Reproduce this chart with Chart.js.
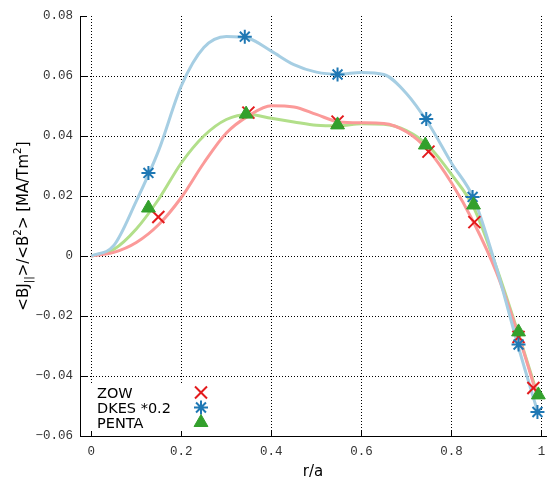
<!DOCTYPE html>
<html>
<head>
<meta charset="utf-8">
<title>bootstrap current profile</title>
<script src="https://cdn.jsdelivr.net/npm/chart.js@4/dist/chart.umd.min.js"></script>
<style>
  html, body { margin: 0; padding: 0; background: #fff; }
  #wrap { width: 547px; height: 484px; }
</style>
</head>
<body>
<div id="wrap"><canvas id="myChart" width="547" height="484"></canvas></div>
<script>
// axis ticks
var xTicks = [0, 0.2, 0.4, 0.6, 0.8, 1];
var xTickLabels = ["0", "0.2", "0.4", "0.6", "0.8", "1"];
var yTicks = [-0.06, -0.04, -0.02, 0, 0.02, 0.04, 0.06, 0.08];
var yTickLabels = ["\u22120.06", "\u22120.04", "\u22120.02", "0", "0.02", "0.04", "0.06", "0.08"];

// code results, <BJ||>/<B^2> at r/a
var zowR = [0.149, 0.349, 0.547, 0.749, 0.851, 0.949, 0.982];
var zowV = [0.013, 0.0478, 0.0448, 0.0348, 0.0113, -0.027, -0.044];
var dkesR = [0.127, 0.341, 0.547, 0.744, 0.847, 0.949, 0.991];
var dkesV = [0.0277, 0.0731, 0.0605, 0.0457, 0.0197, -0.0295, -0.052];
var pentaR = [0.127, 0.344, 0.547, 0.742, 0.849, 0.949, 0.993];
var pentaV = [0.016, 0.0473, 0.0437, 0.037, 0.017, -0.0253, -0.0463];

// smoothed profiles
var fitR = [0, 0.05, 0.1, 0.15, 0.2, 0.25, 0.3, 0.35, 0.4, 0.45, 0.5,
            0.55, 0.6, 0.65, 0.7, 0.75, 0.8, 0.85, 0.9, 0.95, 0.99];
var zowFit = [0, 0.0012, 0.0045, 0.0105, 0.0195, 0.031, 0.041, 0.0468, 0.0501, 0.0497, 0.0472,
              0.0447, 0.0444, 0.0442, 0.0414, 0.035, 0.0244, 0.011, -0.0055, -0.027, -0.0465];
var dkesFit = [0, 0.0035, 0.0183, 0.0353, 0.0567, 0.0695, 0.0732, 0.0725, 0.0683, 0.0638, 0.0613,
               0.0606, 0.0612, 0.0605, 0.0542, 0.0439, 0.031, 0.019, -0.004, -0.031, -0.0512];
var pentaFit = [0, 0.0022, 0.009, 0.019, 0.031, 0.040, 0.0455, 0.0472, 0.0459, 0.0447, 0.0436,
                0.0434, 0.0441, 0.0439, 0.0418, 0.0365, 0.0272, 0.016, -0.0038, -0.0265, -0.0457];

var legendItems = [
  { text: "ZOW", style: "crossRot", color: "#e31a1c", radius: 8.5 },
  { text: "DKES *0.2", style: "star", color: "#1f78b4", radius: 7 },
  { text: "PENTA", style: "triangle", color: "#33a02c", radius: 8 }
];

function pts(xs, ys) {
  return xs.map(function(x, i) { return { x: x, y: ys[i] }; });
}

function curve(data, color, order) {
  return {
    data: data, borderColor: color, borderWidth: 3, pointRadius: 0,
    cubicInterpolationMode: 'monotone', fill: false, order: order
  };
}

function marks(data, item, order) {
  return {
    data: data, showLine: false, pointStyle: item.style, pointRadius: item.radius,
    borderColor: item.color, backgroundColor: item.color,
    pointBorderWidth: item.style === 'triangle' ? 1 : 2, order: order, clip: false
  };
}

function drawMarker(c, item, x, y) {
  c.save();
  c.strokeStyle = item.color;
  c.fillStyle = item.color;
  c.lineWidth = item.style === 'triangle' ? 1 : 2;
  Chart.helpers.drawPoint(c, {
    pointStyle: item.style, radius: item.radius, rotation: 0,
    borderWidth: c.lineWidth
  }, x, y);
  c.restore();
}

// white box behind the key, small inward ticks on the axes
var frame = {
  id: 'frame',
  beforeDatasetsDraw: function(chart) {
    var c = chart.ctx, a = chart.chartArea;
    c.save();
    c.fillStyle = '#fff';
    c.fillRect(a.left + 1, a.bottom - 53, 133, 52);
    c.strokeStyle = '#000';
    c.lineWidth = 1;
    c.beginPath();
    yTicks.forEach(function(v) {
      var y = Math.round(chart.scales.y.getPixelForValue(v)) + 0.5;
      c.moveTo(a.left, y); c.lineTo(a.left + 7, y);
    });
    xTicks.forEach(function(v) {
      var x = Math.round(chart.scales.x.getPixelForValue(v)) + 0.5;
      c.moveTo(x, a.bottom); c.lineTo(x, a.bottom - 5);
    });
    c.stroke();
    c.restore();
  },
  afterDatasetsDraw: function(chart) {
    var c = chart.ctx, a = chart.chartArea;
    c.save();
    c.font = '14.5px "DejaVu Sans"';
    c.fillStyle = '#000';
    c.textBaseline = 'alphabetic';
    legendItems.forEach(function(item, i) {
      var base = a.bottom - 38 + i * 15;
      c.fillText(item.text, a.left + 17, base);
      drawMarker(c, item, 201, base - 5.5);
    });
    c.restore();
  }
};

// y axis title with sub/superscripts
var yTitleParts = [
  { t: "<BJ", k: 0 }, { t: "||", k: -1 }, { t: ">/<B", k: 0 }, { t: "2", k: 1 },
  { t: "> [MA/Tm", k: 0 }, { t: "2", k: 1 }, { t: "]", k: 0 }
];
var yTitle = {
  id: 'yTitle',
  afterDraw: function(chart) {
    var c = chart.ctx, a = chart.chartArea;
    var big = '15px "DejaVu Sans"', small = '10.5px "DejaVu Sans"';
    c.save();
    var total = 0;
    yTitleParts.forEach(function(p) {
      c.font = p.k ? small : big;
      p.w = c.measureText(p.t).width;
      total += p.w;
    });
    c.translate(22, (a.top + a.bottom) / 2);
    c.rotate(-Math.PI / 2);
    c.fillStyle = '#000';
    var x = -total / 2;
    yTitleParts.forEach(function(p) {
      c.font = p.k ? small : big;
      var dy = p.k === 0 ? 5.5 : (p.k < 0 ? 10 : -1.5);
      c.fillText(p.t, x, dy);
      x += p.w;
    });
    c.restore();
  }
};

var tickFont = { family: "'Liberation Mono', monospace", size: 12.5 };

var ctx = document.getElementById("myChart").getContext("2d");
var chart = new Chart(ctx, {
  type: 'line',
  data: {
    datasets: [
      curve(pts(fitR, pentaFit), '#b2df8a', 6),
      curve(pts(fitR, zowFit), '#fb9a99', 5),
      curve(pts(fitR, dkesFit), '#a6cee3', 4),
      marks(pts(zowR, zowV), legendItems[0], 3),
      marks(pts(dkesR, dkesV), legendItems[1], 2),
      marks(pts(pentaR, pentaV), legendItems[2], 1)
    ]
  },
  options: {
    responsive: false,
    devicePixelRatio: 1,
    animation: false,
    events: [],
    // markers may overhang the plot edge, no extra room for them
    layout: { autoPadding: false, padding: { top: 16, right: 1, left: 0, bottom: 0 } },
    plugins: { legend: { display: false }, tooltip: { enabled: false } },
    scales: {
      x: {
        type: 'linear', min: -0.025, max: 1.01,
        afterBuildTicks: function(axis) {
          axis.ticks = xTicks.map(function(v) { return { value: v }; });
        },
        afterFit: function(axis) { axis.height = 48; },
        ticks: {
          callback: function(v, i) { return xTickLabels[i]; },
          font: tickFont, color: '#333', padding: 0, maxRotation: 0, autoSkip: false
        },
        grid: {
          color: '#000', lineWidth: 1, drawTicks: true,
          tickLength: 8, tickColor: 'rgba(0,0,0,0)'
        },
        border: { color: '#000', width: 1, dash: [1, 2] },
        title: {
          display: true, text: 'r/a', color: '#000',
          font: { family: 'DejaVu Sans', size: 15 }, padding: { top: 0, bottom: 3 }
        }
      },
      y: {
        type: 'linear', min: -0.06, max: 0.08,
        afterBuildTicks: function(axis) {
          axis.ticks = yTicks.map(function(v) { return { value: v }; });
        },
        afterFit: function(axis) { axis.width = 80; },
        ticks: {
          callback: function(v, i) { return yTickLabels[i]; },
          font: tickFont, color: '#333', padding: 7, autoSkip: false
        },
        grid: {
          lineWidth: 1, drawTicks: false,
          color: function(c) { return c.tick && c.tick.value === 0.08 ? 'rgba(0,0,0,0)' : '#000'; }
        },
        border: { color: '#000', width: 1, dash: [1, 2] }
      }
    }
  },
  plugins: [frame, yTitle]
});
</script>
</body>
</html>
